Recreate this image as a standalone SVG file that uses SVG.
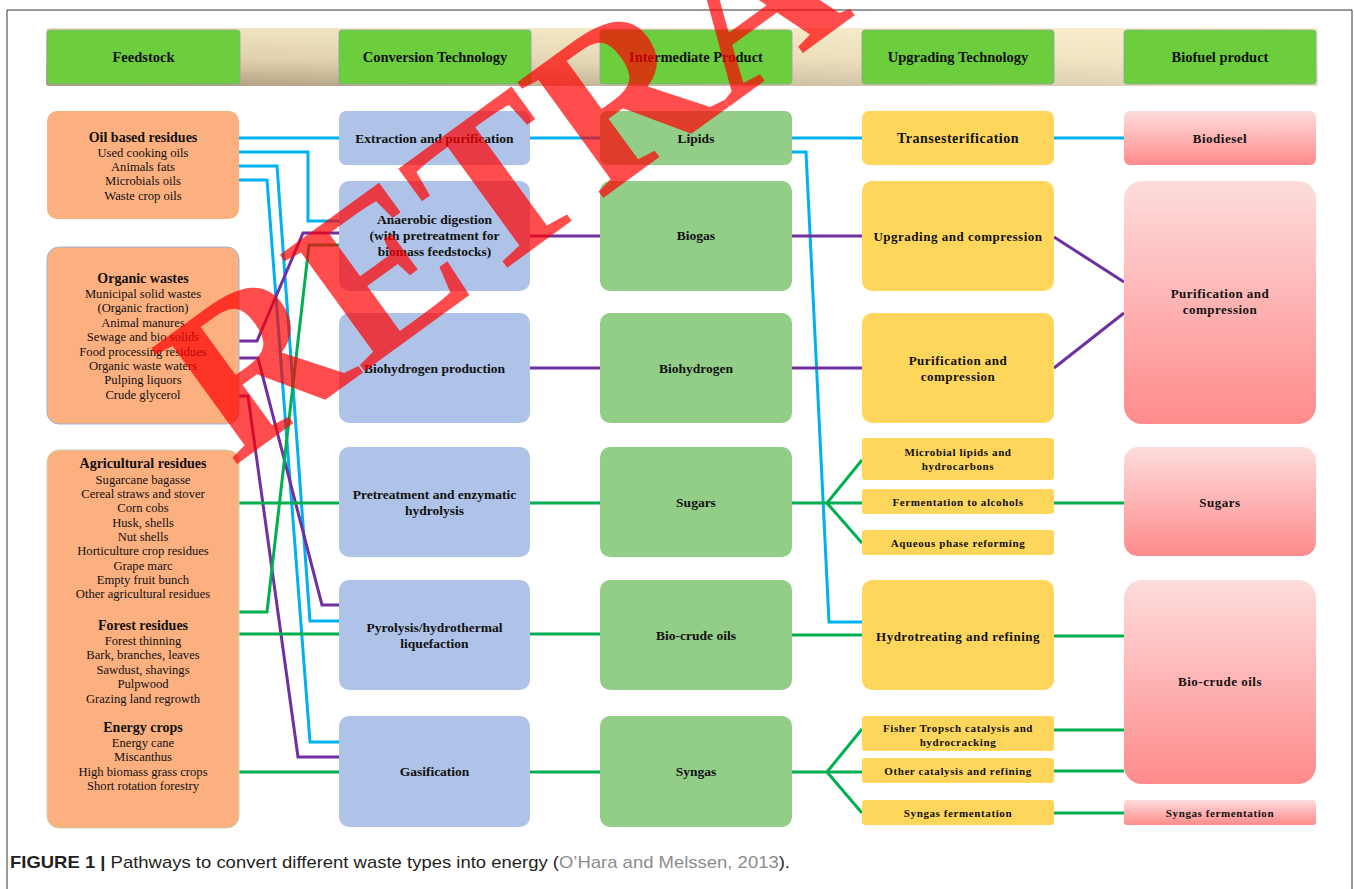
<svg xmlns="http://www.w3.org/2000/svg" width="1354" height="889" viewBox="0 0 1354 889">
<defs>
<linearGradient id="band" x1="0" y1="0" x2="0" y2="1">
<stop offset="0" stop-color="#EFE1BC"/>
<stop offset="0.55" stop-color="#DCCBA5"/>
<stop offset="1" stop-color="#A99879"/>
</linearGradient>
<linearGradient id="bandR" x1="0" y1="0" x2="1" y2="0">
<stop offset="0" stop-color="#FFF6DC" stop-opacity="0"/>
<stop offset="1" stop-color="#FFF3D2" stop-opacity="0.75"/>
</linearGradient>
<linearGradient id="pink" x1="0" y1="0" x2="0" y2="1">
<stop offset="0" stop-color="#FDDCDC"/>
<stop offset="1" stop-color="#FF8B8B"/>
</linearGradient>
<style>
.hdr{fill:#6CCD3D;stroke:#7FA89A;stroke-width:0.8}
.feed{fill:#FCB080}
.conv{fill:#AEC3E7}
.inter{fill:#93CE89}
.upg{fill:#FFD65C}
.bio{fill:url(#pink)}
.t{font-family:"Liberation Serif","Times New Roman",serif;fill:#111;text-anchor:middle}
.h{font-size:14.5px;font-weight:bold}
.m{font-size:13.5px;font-weight:bold}
.s{font-size:11px;font-weight:bold;letter-spacing:0.6px}
.u{font-size:13px;font-weight:bold;letter-spacing:0.5px}
.fi{font-size:12.6px}
.ft{font-size:14px;font-weight:bold}
.ln{fill:none;stroke-width:3;stroke-linejoin:miter}
.bl{stroke:#00B0F0}
.pu{stroke:#7030A0}
.gr{stroke:#00B050}
</style>
</defs>
<rect x="0" y="0" width="1354" height="889" fill="#FFFFFF"/>
<path d="M7,889 V10 H1352 V889" fill="none" stroke="#333" stroke-width="1"/>

<g id="header">
<rect x="46" y="28" width="1272" height="58" rx="3" fill="url(#band)"/>
<rect x="46" y="28" width="1272" height="58" rx="3" fill="url(#bandR)"/>
<g id="h-feedstock"><rect class="hdr" x="47" y="30" width="193" height="54" rx="3"/><text class="t h" x="143.5" y="62">Feedstock</text></g>
<g id="h-conversion"><rect class="hdr" x="339" y="30" width="192" height="54" rx="3"/><text class="t h" x="435" y="62">Conversion Technology</text></g>
<g id="h-intermediate"><rect class="hdr" x="600" y="30" width="192" height="54" rx="3"/><text class="t h" x="696" y="62">Intermediate Product</text></g>
<g id="h-upgrading"><rect class="hdr" x="862" y="30" width="192" height="54" rx="3"/><text class="t h" x="958" y="62">Upgrading Technology</text></g>
<g id="h-biofuel"><rect class="hdr" x="1124" y="30" width="192" height="54" rx="3"/><text class="t h" x="1220" y="62">Biofuel product</text></g>
</g>

<g id="connectors">
<path class="ln bl" d="M239,138 H339 M530,138 H600 M792,138 H862 M1054,138 H1124"/>
<path class="ln bl" d="M239,152 H308 V221 H339"/>
<path class="ln bl" d="M239,166 H277 L310,621 H339"/>
<path class="ln bl" d="M239,180 H267 L310,742 H339"/>
<path class="ln bl" d="M792,152 H806 L829,622 H862"/>
<path class="ln pu" d="M237,341 H257 L303,233 H339"/>
<path class="ln pu" d="M237,358 H258 L322,605 H339"/>
<path class="ln pu" d="M237,396 H248 L298,757 H339"/>
<path class="ln pu" d="M530,236 H600 M792,236 H862 M530,368 H600 M792,368 H862"/>
<path class="ln pu" d="M1054,237 L1124,282 M1054,368 L1124,313"/>
<path class="ln gr" d="M239,503 H339 M530,503 H600 M792,503 H862 M1054,503 H1124"/>
<path class="ln gr" d="M827,503 L862,460 M827,503 L862,543"/>
<path class="ln gr" d="M239,612 H267 L309,245 H339"/>
<path class="ln gr" d="M239,634 H339 M530,634 H600 M792,635 H862 M1054,636 H1124"/>
<path class="ln gr" d="M239,772 H339 M530,772 H600 M792,772 H862 M1054,771 H1124"/>
<path class="ln gr" d="M827,772 L862,729 M827,772 L862,813"/>
<path class="ln gr" d="M1054,730 H1124 M1054,813 H1124"/>
</g>

<g id="feed-oil">
<rect class="feed" x="47" y="111" width="192" height="108" rx="10"/>
<text class="t"><tspan class="ft" x="143" y="142">Oil based residues</tspan><tspan class="fi" x="143" y="157">Used cooking oils</tspan><tspan class="fi" x="143" y="171">Animals fats</tspan><tspan class="fi" x="143" y="185">Microbials oils</tspan><tspan class="fi" x="143" y="200">Waste crop oils</tspan></text>
</g>
<g id="feed-organic">
<rect class="feed" x="47" y="247" width="192" height="177" rx="12" stroke="#9DB3D8" stroke-width="1"/>
<text class="t"><tspan class="ft" x="143" y="283">Organic wastes</tspan><tspan class="fi" x="143" y="298">Municipal solid wastes</tspan><tspan class="fi" x="143" y="312">(Organic fraction)</tspan><tspan class="fi" x="143" y="327">Animal manures</tspan><tspan class="fi" x="143" y="341">Sewage and bio solids</tspan><tspan class="fi" x="143" y="356">Food processing residues</tspan><tspan class="fi" x="143" y="370">Organic waste waters</tspan><tspan class="fi" x="143" y="384">Pulping liquors</tspan><tspan class="fi" x="143" y="399">Crude glycerol</tspan></text>
</g>
<g id="feed-agri">
<rect class="feed" x="47" y="450" width="192" height="378" rx="12" stroke="#C9D6A8" stroke-width="1"/>
<text class="t"><tspan class="ft" x="143" y="468">Agricultural residues</tspan><tspan class="fi" x="143" y="484">Sugarcane bagasse</tspan><tspan class="fi" x="143" y="498">Cereal straws and stover</tspan><tspan class="fi" x="143" y="512">Corn cobs</tspan><tspan class="fi" x="143" y="527">Husk, shells</tspan><tspan class="fi" x="143" y="541">Nut shells</tspan><tspan class="fi" x="143" y="555">Horticulture crop residues</tspan><tspan class="fi" x="143" y="570">Grape marc</tspan><tspan class="fi" x="143" y="584">Empty fruit bunch</tspan><tspan class="fi" x="143" y="598">Other agricultural residues</tspan><tspan class="ft" x="143" y="630">Forest residues</tspan><tspan class="fi" x="143" y="645">Forest thinning</tspan><tspan class="fi" x="143" y="659">Bark, branches, leaves</tspan><tspan class="fi" x="143" y="674">Sawdust, shavings</tspan><tspan class="fi" x="143" y="688">Pulpwood</tspan><tspan class="fi" x="143" y="703">Grazing land regrowth</tspan><tspan class="ft" x="143" y="732">Energy crops</tspan><tspan class="fi" x="143" y="747">Energy cane</tspan><tspan class="fi" x="143" y="761">Miscanthus</tspan><tspan class="fi" x="143" y="776">High biomass grass crops</tspan><tspan class="fi" x="143" y="790">Short rotation forestry</tspan></text>
</g>

<g id="conv-extraction"><rect class="conv" x="339" y="111" width="191" height="54" rx="7"/><text class="t m" x="434.5" y="142.5">Extraction and purification</text></g>
<g id="conv-anaerobic"><rect class="conv" x="339" y="181" width="191" height="110" rx="10"/><text class="t m"><tspan x="434.5" y="224">Anaerobic digestion</tspan><tspan x="434.5" y="240">(with pretreatment for</tspan><tspan x="434.5" y="256">biomass feedstocks)</tspan></text></g>
<g id="conv-biohydrogen"><rect class="conv" x="339" y="313" width="191" height="110" rx="10"/><text class="t m" x="434.5" y="373">Biohydrogen production</text></g>
<g id="conv-pretreatment"><rect class="conv" x="339" y="447" width="191" height="110" rx="10"/><text class="t m"><tspan x="434.5" y="499">Pretreatment and enzymatic</tspan><tspan x="434.5" y="515">hydrolysis</tspan></text></g>
<g id="conv-pyrolysis"><rect class="conv" x="339" y="580" width="191" height="110" rx="10"/><text class="t m"><tspan x="434.5" y="632">Pyrolysis/hydrothermal</tspan><tspan x="434.5" y="648">liquefaction</tspan></text></g>
<g id="conv-gasification"><rect class="conv" x="339" y="716" width="191" height="111" rx="10"/><text class="t m" x="434.5" y="776">Gasification</text></g>

<g id="int-lipids"><rect class="inter" x="600" y="111" width="192" height="54" rx="7"/><text class="t m" x="696" y="142.5">Lipids</text></g>
<g id="int-biogas"><rect class="inter" x="600" y="181" width="192" height="110" rx="10"/><text class="t m" x="696" y="240">Biogas</text></g>
<g id="int-biohydrogen"><rect class="inter" x="600" y="313" width="192" height="110" rx="10"/><text class="t m" x="696" y="373">Biohydrogen</text></g>
<g id="int-sugars"><rect class="inter" x="600" y="447" width="192" height="110" rx="10"/><text class="t m" x="696" y="507">Sugars</text></g>
<g id="int-biocrude"><rect class="inter" x="600" y="580" width="192" height="110" rx="10"/><text class="t m" x="696" y="640">Bio-crude oils</text></g>
<g id="int-syngas"><rect class="inter" x="600" y="716" width="192" height="111" rx="10"/><text class="t m" x="696" y="776">Syngas</text></g>

<g id="upg-trans"><rect class="upg" x="862" y="111" width="192" height="54" rx="7"/><text class="t u" x="958" y="143" style="font-size:14px">Transesterification</text></g>
<g id="upg-upgrading"><rect class="upg" x="862" y="181" width="192" height="110" rx="10"/><text class="t u" x="958" y="240.5">Upgrading and compression</text></g>
<g id="upg-purification"><rect class="upg" x="862" y="313" width="192" height="110" rx="10"/><text class="t u"><tspan x="958" y="365">Purification and</tspan><tspan x="958" y="381">compression</tspan></text></g>
<g id="upg-microbial"><rect class="upg" x="862" y="438" width="192" height="42" rx="3"/><text class="t s"><tspan x="958" y="456">Microbial lipids and</tspan><tspan x="958" y="470">hydrocarbons</tspan></text></g>
<g id="upg-fermentation"><rect class="upg" x="862" y="489" width="192" height="25" rx="3"/><text class="t s" x="958" y="506">Fermentation to alcohols</text></g>
<g id="upg-aqueous"><rect class="upg" x="862" y="530" width="192" height="25" rx="3"/><text class="t s" x="958" y="547">Aqueous phase reforming</text></g>
<g id="upg-hydrotreating"><rect class="upg" x="862" y="580" width="192" height="110" rx="10"/><text class="t u" x="958" y="640.5">Hydrotreating and refining</text></g>
<g id="upg-fisher"><rect class="upg" x="862" y="716" width="192" height="35" rx="3"/><text class="t s"><tspan x="958" y="732">Fisher Tropsch catalysis and</tspan><tspan x="958" y="746">hydrocracking</tspan></text></g>
<g id="upg-other"><rect class="upg" x="862" y="758" width="192" height="25" rx="3"/><text class="t s" x="958" y="775">Other catalysis and refining</text></g>
<g id="upg-syngas"><rect class="upg" x="862" y="800" width="192" height="25" rx="3"/><text class="t s" x="958" y="817">Syngas fermentation</text></g>

<g id="bio-biodiesel"><rect class="bio" x="1124" y="111" width="192" height="54" rx="6"/><text class="t u" x="1220" y="142.5">Biodiesel</text></g>
<g id="bio-purification"><rect class="bio" x="1124" y="181" width="192" height="243" rx="18"/><text class="t u"><tspan x="1220" y="298">Purification and</tspan><tspan x="1220" y="314">compression</tspan></text></g>
<g id="bio-sugars"><rect class="bio" x="1124" y="447" width="192" height="109" rx="14"/><text class="t u" x="1220" y="506.5">Sugars</text></g>
<g id="bio-biocrude"><rect class="bio" x="1124" y="580" width="192" height="204" rx="18"/><text class="t u" x="1220" y="685.5">Bio-crude oils</text></g>
<g id="bio-syngas"><rect class="bio" x="1124" y="800" width="192" height="25" rx="3"/><text class="t s" x="1220" y="817">Syngas fermentation</text></g>

<text id="watermark" transform="translate(233,467) rotate(-36)" x="0" y="0" font-family="Liberation Serif, Times New Roman, serif" font-weight="bold" font-size="220" fill="#FF0000" fill-opacity="0.7">RETRACTED</text>

<text id="caption" x="10" y="868" font-family="Liberation Sans, Arial, sans-serif" font-size="17" fill="#231F20" textLength="780" lengthAdjust="spacingAndGlyphs"><tspan font-weight="bold">FIGURE 1 | </tspan>Pathways to convert different waste types into energy (<tspan fill="#8C8C8C">O’Hara and Melssen, 2013</tspan>).</text>
</svg>
